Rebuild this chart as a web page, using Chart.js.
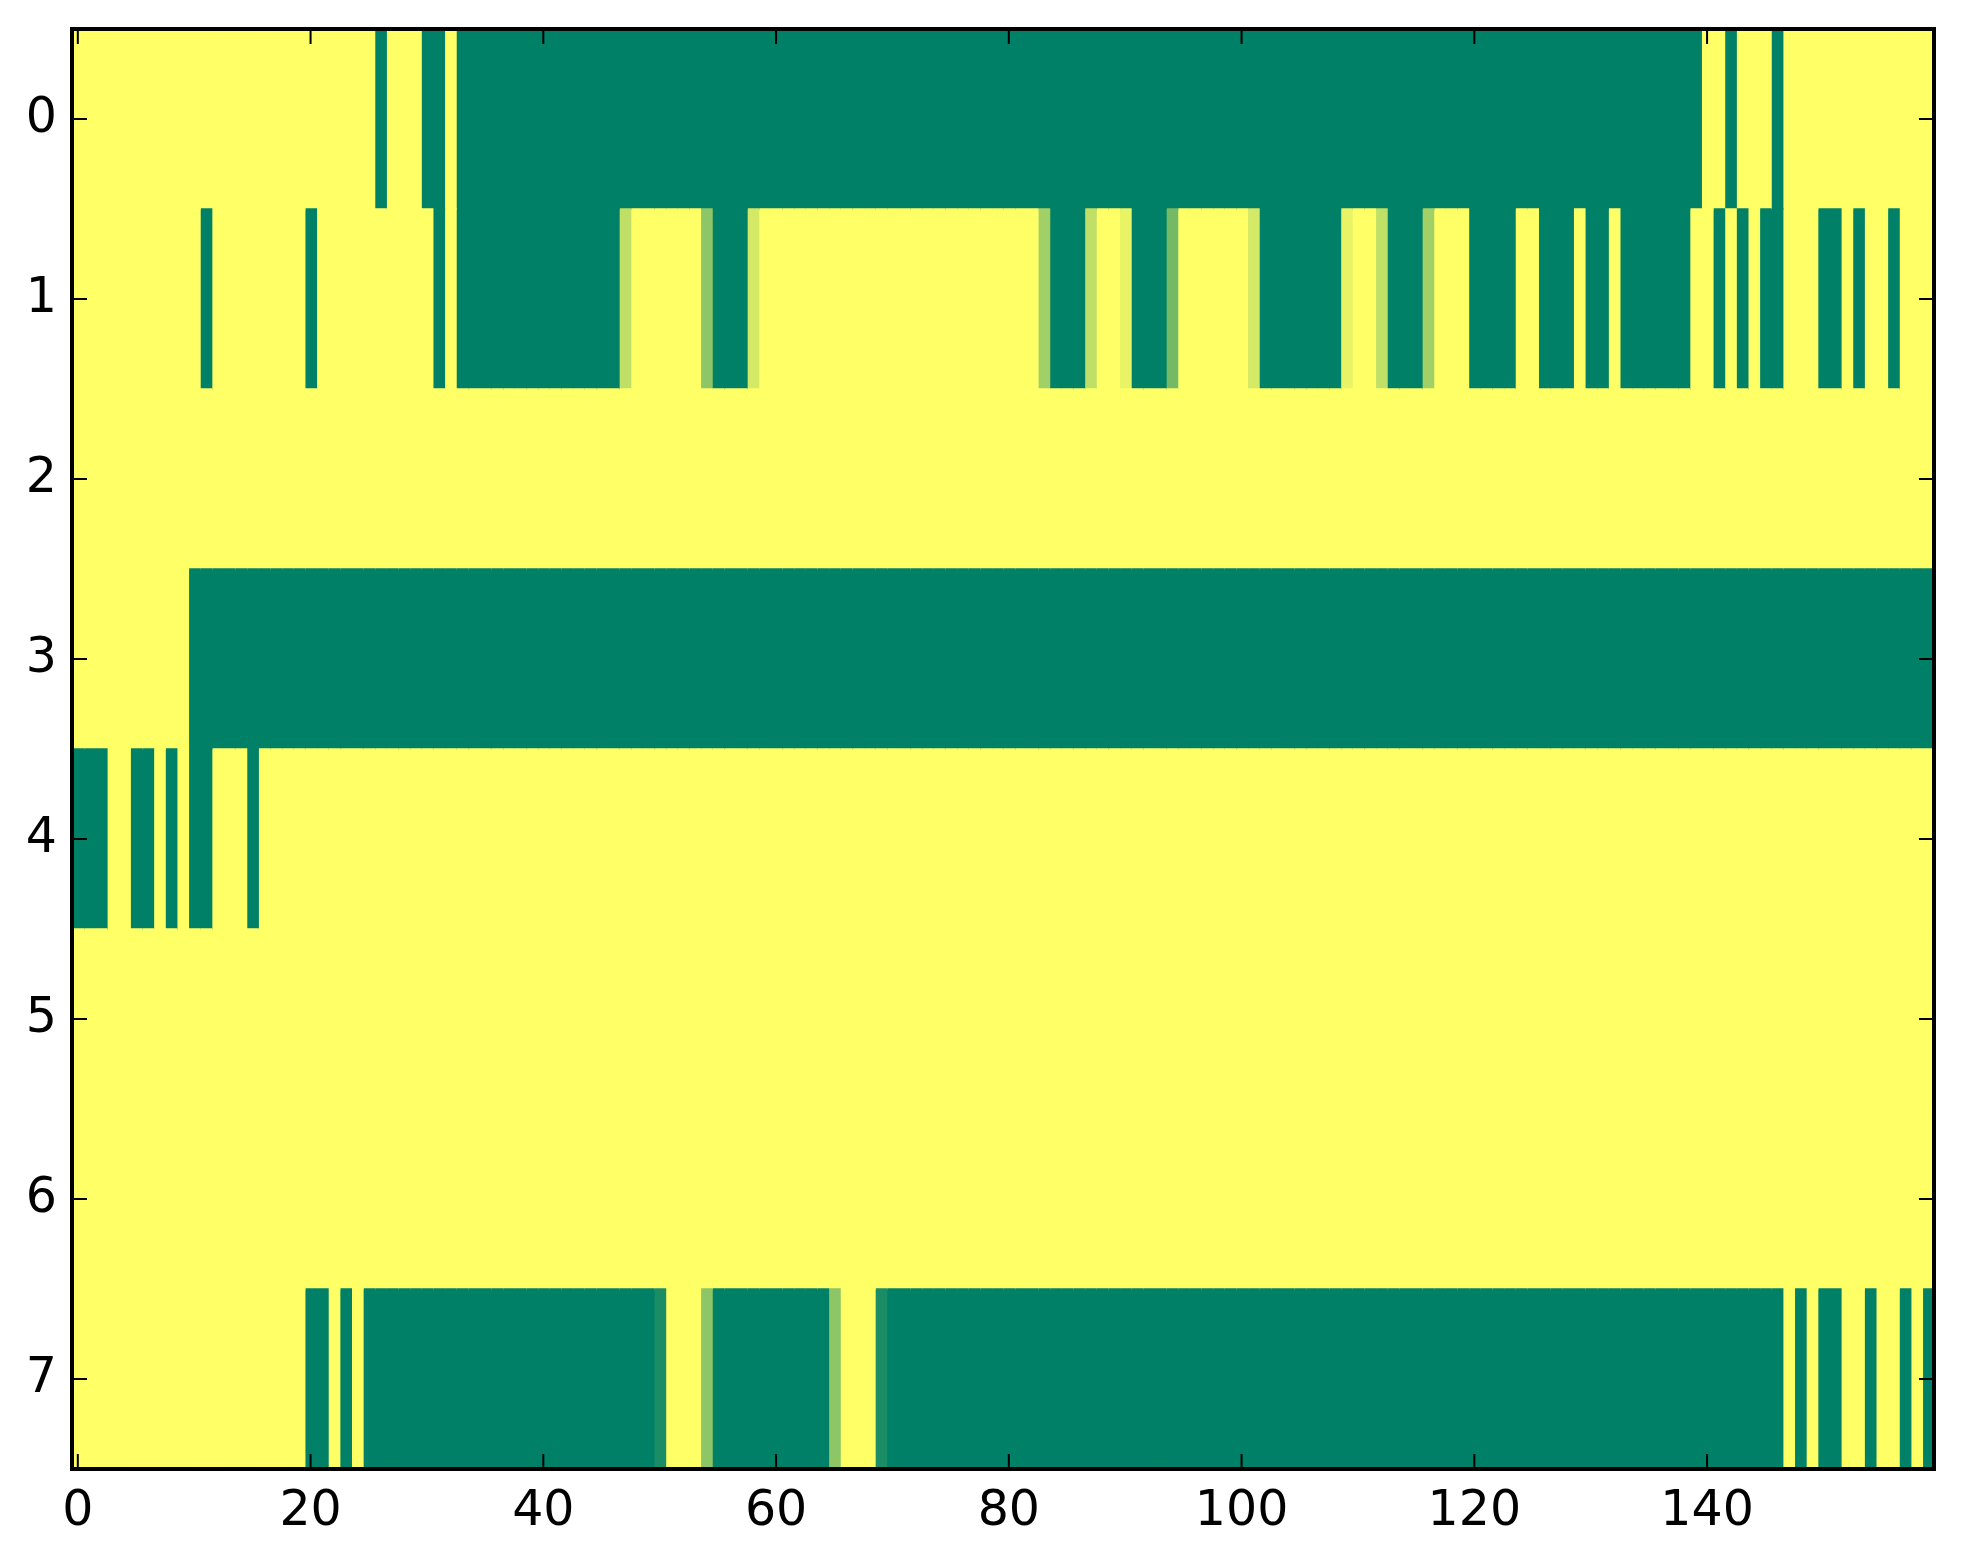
<!DOCTYPE html>
<html><head><meta charset="utf-8">
<script src="https://cdn.jsdelivr.net/npm/chart.js@4.4.1/dist/chart.umd.min.js"></script>
<style>html,body{margin:0;padding:0;background:#fff;}canvas{display:block;}</style>
</head><body>
<canvas id="c" width="1963" height="1564"></canvas>
<script>
const rowLabels = ['0','1','2','3','4','5','6','7'];
const xTickValues = [0,20,40,60,80,100,120,140];

const row0 = [
1,1,1,1,1,1,1,1,1,1,1,1,1,1,1,1,1,1,1,1,
1,1,1,1,1,1,0,1,1,1,0,0,1,0,0,0,0,0,0,0,
0,0,0,0,0,0,0,0,0,0,0,0,0,0,0,0,0,0,0,0,
0,0,0,0,0,0,0,0,0,0,0,0,0,0,0,0,0,0,0,0,
0,0,0,0,0,0,0,0,0,0,0,0,0,0,0,0,0,0,0,0,
0,0,0,0,0,0,0,0,0,0,0,0,0,0,0,0,0,0,0,0,
0,0,0,0,0,0,0,0,0,0,0,0,0,0,0,0,0,0,0,0,
1,1,0,1,1,1,0,1,1,1,1,1,1,1,1,1,1,1,1,1];
const row1 = [
1,1,1,1,1,1,1,1,1,1,1,0,1,1,1,1,1,1,1,1,
0,1,1,1,1,1,1,1,1,1,1,0,1,0,0,0,0,0,0,0,
0,0,0,0,0,0,0,0.75,1,1,1,1,1,1,0.55,0,0,0,0.83,1,
1,1,1,1,1,1,1,1,1,1,1,1,1,1,1,1,1,1,1,1,
1,1,1,0.63,0,0,0,0.75,1,1,0.91,0,0,0,0.45,1,1,1,1,1,
1,0.83,0,0,0,0,0,0,0,0.91,1,1,0.75,0,0,0,0.63,1,1,1,
0,0,0,0,1,1,0,0,0,1,0,0,1,0,0,0,0,0,0,1,
1,0,1,0,1,0,0,1,1,1,0,0,1,0,1,1,0,1,1,1];
const row2 = [
1,1,1,1,1,1,1,1,1,1,1,1,1,1,1,1,1,1,1,1,
1,1,1,1,1,1,1,1,1,1,1,1,1,1,1,1,1,1,1,1,
1,1,1,1,1,1,1,1,1,1,1,1,1,1,1,1,1,1,1,1,
1,1,1,1,1,1,1,1,1,1,1,1,1,1,1,1,1,1,1,1,
1,1,1,1,1,1,1,1,1,1,1,1,1,1,1,1,1,1,1,1,
1,1,1,1,1,1,1,1,1,1,1,1,1,1,1,1,1,1,1,1,
1,1,1,1,1,1,1,1,1,1,1,1,1,1,1,1,1,1,1,1,
1,1,1,1,1,1,1,1,1,1,1,1,1,1,1,1,1,1,1,1];
const row3 = [
1,1,1,1,1,1,1,1,1,1,0,0,0,0,0,0,0,0,0,0,
0,0,0,0,0,0,0,0,0,0,0,0,0,0,0,0,0,0,0,0,
0,0,0,0,0,0,0,0,0,0,0,0,0,0,0,0,0,0,0,0,
0,0,0,0,0,0,0,0,0,0,0,0,0,0,0,0,0,0,0,0,
0,0,0,0,0,0,0,0,0,0,0,0,0,0,0,0,0,0,0,0,
0,0,0,0,0,0,0,0,0,0,0,0,0,0,0,0,0,0,0,0,
0,0,0,0,0,0,0,0,0,0,0,0,0,0,0,0,0,0,0,0,
0,0,0,0,0,0,0,0,0,0,0,0,0,0,0,0,0,0,0,0];
const row4 = [
0,0,0,1,1,0,0,1,0,1,0,0,1,1,1,0,1,1,1,1,
1,1,1,1,1,1,1,1,1,1,1,1,1,1,1,1,1,1,1,1,
1,1,1,1,1,1,1,1,1,1,1,1,1,1,1,1,1,1,1,1,
1,1,1,1,1,1,1,1,1,1,1,1,1,1,1,1,1,1,1,1,
1,1,1,1,1,1,1,1,1,1,1,1,1,1,1,1,1,1,1,1,
1,1,1,1,1,1,1,1,1,1,1,1,1,1,1,1,1,1,1,1,
1,1,1,1,1,1,1,1,1,1,1,1,1,1,1,1,1,1,1,1,
1,1,1,1,1,1,1,1,1,1,1,1,1,1,1,1,1,1,1,1];
const row5 = [
1,1,1,1,1,1,1,1,1,1,1,1,1,1,1,1,1,1,1,1,
1,1,1,1,1,1,1,1,1,1,1,1,1,1,1,1,1,1,1,1,
1,1,1,1,1,1,1,1,1,1,1,1,1,1,1,1,1,1,1,1,
1,1,1,1,1,1,1,1,1,1,1,1,1,1,1,1,1,1,1,1,
1,1,1,1,1,1,1,1,1,1,1,1,1,1,1,1,1,1,1,1,
1,1,1,1,1,1,1,1,1,1,1,1,1,1,1,1,1,1,1,1,
1,1,1,1,1,1,1,1,1,1,1,1,1,1,1,1,1,1,1,1,
1,1,1,1,1,1,1,1,1,1,1,1,1,1,1,1,1,1,1,1];
const row6 = [
1,1,1,1,1,1,1,1,1,1,1,1,1,1,1,1,1,1,1,1,
1,1,1,1,1,1,1,1,1,1,1,1,1,1,1,1,1,1,1,1,
1,1,1,1,1,1,1,1,1,1,1,1,1,1,1,1,1,1,1,1,
1,1,1,1,1,1,1,1,1,1,1,1,1,1,1,1,1,1,1,1,
1,1,1,1,1,1,1,1,1,1,1,1,1,1,1,1,1,1,1,1,
1,1,1,1,1,1,1,1,1,1,1,1,1,1,1,1,1,1,1,1,
1,1,1,1,1,1,1,1,1,1,1,1,1,1,1,1,1,1,1,1,
1,1,1,1,1,1,1,1,1,1,1,1,1,1,1,1,1,1,1,1];
const row7 = [
1,1,1,1,1,1,1,1,1,1,1,1,1,1,1,1,1,1,1,1,
0,0,1,0,1,0,0,0,0,0,0,0,0,0,0,0,0,0,0,0,
0,0,0,0,0,0,0,0,0,0,0.1,1,1,1,0.55,0,0,0,0,0,
0,0,0,0,0,0.55,1,1,1,0.1,0,0,0,0,0,0,0,0,0,0,
0,0,0,0,0,0,0,0,0,0,0,0,0,0,0,0,0,0,0,0,
0,0,0,0,0,0,0,0,0,0,0,0,0,0,0,0,0,0,0,0,
0,0,0,0,0,0,0,0,0,0,0,0,0,0,0,0,0,0,0,0,
0,0,0,0,0,0,0,1,0,1,0,0,1,1,0,1,1,0,1,0];

const rows = [row0,row1,row2,row3,row4,row5,row6,row7];
const columnIndex = row0.map((_, i) => i);

// matplotlib "summer" colormap
function summer(v) {
  const r = Math.round(255 * v);
  const g = Math.round(255 * (0.5 + 0.5 * v));
  return 'rgb(' + r + ',' + g + ',102)';
}

const datasets = columnIndex.map(c => ({
  data: rows.map(() => [c - 0.5, c + 0.5]),
  backgroundColor: rows.map(r => summer(r[c])),
  borderWidth: 0,
  grouped: false,
  barPercentage: 1,
  categoryPercentage: 1,
  inflateAmount: 0.7
}));

const framePlugin = {
  id: 'frame',
  afterDraw(chart) {
    const ctx = chart.ctx, a = chart.chartArea, x = chart.scales.x, y = chart.scales.y;
    ctx.save();
    ctx.strokeStyle = '#000';
    ctx.lineWidth = 2;
    ctx.beginPath();
    xTickValues.forEach(v => {
      const px = x.getPixelForValue(v);
      ctx.moveTo(px, a.bottom); ctx.lineTo(px, a.bottom - 15);
      ctx.moveTo(px, a.top); ctx.lineTo(px, a.top + 15);
    });
    rowLabels.forEach((l, i) => {
      const py = y.getPixelForValue(i);
      ctx.moveTo(a.left, py); ctx.lineTo(a.left + 15, py);
      ctx.moveTo(a.right, py); ctx.lineTo(a.right - 15, py);
    });
    ctx.stroke();
    ctx.lineWidth = 4;
    ctx.strokeRect(a.left, a.top, a.right - a.left, a.bottom - a.top);
    ctx.restore();
  }
};

const tickFont = { family: 'DejaVu Sans', size: 49 };

new Chart(document.getElementById('c'), {
  type: 'bar',
  data: { labels: rowLabels, datasets: datasets },
  options: {
    indexAxis: 'y',
    responsive: false,
    devicePixelRatio: 1,
    animation: false,
    events: [],
    layout: { padding: { top: 29, right: 29, left: 0, bottom: 0 } },
    plugins: { legend: { display: false }, tooltip: { enabled: false } },
    scales: {
      x: {
        type: 'linear', min: -0.5, max: 159.5,
        grid: { display: false }, border: { display: false },
        afterBuildTicks: s => { s.ticks = xTickValues.map(v => ({ value: v })); },
        afterFit: s => { s.height = 95; s.paddingLeft = 0; s.paddingRight = 0; },
        ticks: { font: tickFont, color: '#000', padding: 6, maxRotation: 0, autoSkip: false }
      },
      y: {
        type: 'category',
        grid: { display: false }, border: { display: false },
        afterFit: s => { s.width = 72; s.paddingTop = 0; s.paddingBottom = 0; },
        ticks: { font: tickFont, color: '#000', padding: 7 }
      }
    }
  },
  plugins: [framePlugin]
});
</script>
</body></html>
